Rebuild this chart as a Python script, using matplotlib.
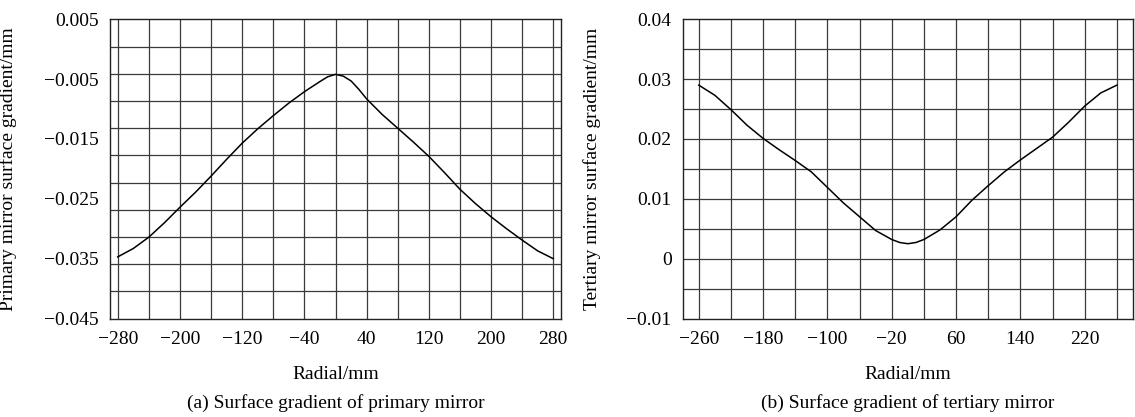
import numpy as np
import matplotlib
matplotlib.use("Agg")
import matplotlib.pyplot as plt
from matplotlib.ticker import FixedLocator, FixedFormatter

plt.rcParams["font.family"] = ["Liberation Serif", "DejaVu Serif"]
plt.rcParams["font.size"] = 14

# (a) primary mirror
radial_a = [-280, -260, -240, -220, -200, -180, -160, -140, -120, -100, -80, -60, -40, -20,
            -10, 0, 10, 20, 30, 40, 60, 80, 100, 120, 140, 160, 180, 200, 220, 240, 260, 280]
grad_a = [-0.0347, -0.0333, -0.0314, -0.0290, -0.0264, -0.0239, -0.0212, -0.0184, -0.0157,
          -0.0133, -0.0111, -0.0090, -0.0071, -0.0054, -0.0046, -0.0042, -0.0045, -0.0053,
          -0.0067, -0.0083, -0.0109, -0.0132, -0.0155, -0.0179, -0.0206, -0.0234, -0.0258,
          -0.0280, -0.0300, -0.0319, -0.0337, -0.0350]
xticks_a = [-280, -200, -120, -40, 40, 120, 200, 280]
yticks_a = [0.005, -0.005, -0.015, -0.025, -0.035, -0.045]
ylabels_a = ["0.005", "\u22120.005", "\u22120.015", "\u22120.025", "\u22120.035", "\u22120.045"]

# (b) tertiary mirror
radial_b = [-260, -240, -220, -200, -180, -160, -140, -120, -100, -80, -60, -40, -20,
            -10, 0, 10, 20, 40, 60, 80, 100, 120, 140, 160, 180, 200, 220, 240, 260]
grad_b = [0.0290, 0.0273, 0.0249, 0.0223, 0.0201, 0.0182, 0.0164, 0.0145, 0.0119, 0.0093,
          0.0070, 0.0047, 0.0032, 0.0027, 0.0025, 0.0027, 0.0032, 0.0048, 0.0070, 0.0098,
          0.0122, 0.0145, 0.0165, 0.0184, 0.0203, 0.0228, 0.0255, 0.0277, 0.0290]
xticks_b = [-260, -180, -100, -20, 60, 140, 220]
yticks_b = [0.04, 0.03, 0.02, 0.01, 0.0, -0.01]
ylabels_b = ["0.04", "0.03", "0.02", "0.01", "0", "\u22120.01"]


def setup(ax, xlim, ylim, xticks, yticks, ylabels, xgrid, ygrid):
    ax.set_xlim(xlim)
    ax.set_ylim(ylim)
    ax.xaxis.set_major_locator(FixedLocator(xticks))
    ax.xaxis.set_major_formatter(FixedFormatter(["\u2212%d" % -v if v < 0 else "%d" % v for v in xticks]))
    ax.yaxis.set_major_locator(FixedLocator(yticks))
    ax.yaxis.set_major_formatter(FixedFormatter(ylabels))
    ax.tick_params(which="both", length=0)
    ax.tick_params(axis="y", pad=8)
    ax.tick_params(axis="x", pad=9)
    for v in xgrid:
        ax.axvline(v, color="#3a3a3a", lw=0.9, zorder=1)
    for v in ygrid:
        ax.axhline(v, color="#3a3a3a", lw=0.9, zorder=1)
    for s in ax.spines.values():
        s.set_linewidth(1.0)
        s.set_color("#222222")


fig = plt.figure(figsize=(11.35, 4.17), dpi=100)
ax1 = fig.add_axes([0.0969, 0.2362, 0.3974, 0.7175])
ax2 = fig.add_axes([0.6015, 0.2362, 0.3967, 0.7175])

setup(ax1, (-290, 290), (-0.045, 0.005), xticks_a, yticks_a, ylabels_a,
      np.arange(-280, 281, 40), np.linspace(-0.045, 0.005, 12)[1:-1])
ax1.plot(radial_a, grad_a, color="black", lw=1.1, zorder=3)
ax1.set_ylabel("Primary mirror surface gradient/mm")
ax1.yaxis.set_label_coords(-0.206, 0.5)
ax1.set_xlabel("Radial/mm")
ax1.xaxis.set_label_coords(0.5, -0.158)
ax1.text(0.5, -0.282, "(a) Surface gradient of primary mirror", transform=ax1.transAxes,
         ha="center", va="center")

setup(ax2, (-280, 280), (-0.01, 0.04), xticks_b, yticks_b, ylabels_b,
      np.arange(-260, 261, 40), np.arange(-0.005, 0.0351, 0.005))
ax2.plot(radial_b, grad_b, color="black", lw=1.1, zorder=3)
ax2.set_ylabel("Tertiary mirror surface gradient/mm")
ax2.yaxis.set_label_coords(-0.181, 0.5)
ax2.set_xlabel("Radial/mm")
ax2.xaxis.set_label_coords(0.5, -0.158)
ax2.text(0.5, -0.282, "(b) Surface gradient of tertiary mirror", transform=ax2.transAxes,
         ha="center", va="center")

fig.savefig("out.png", dpi=100)
